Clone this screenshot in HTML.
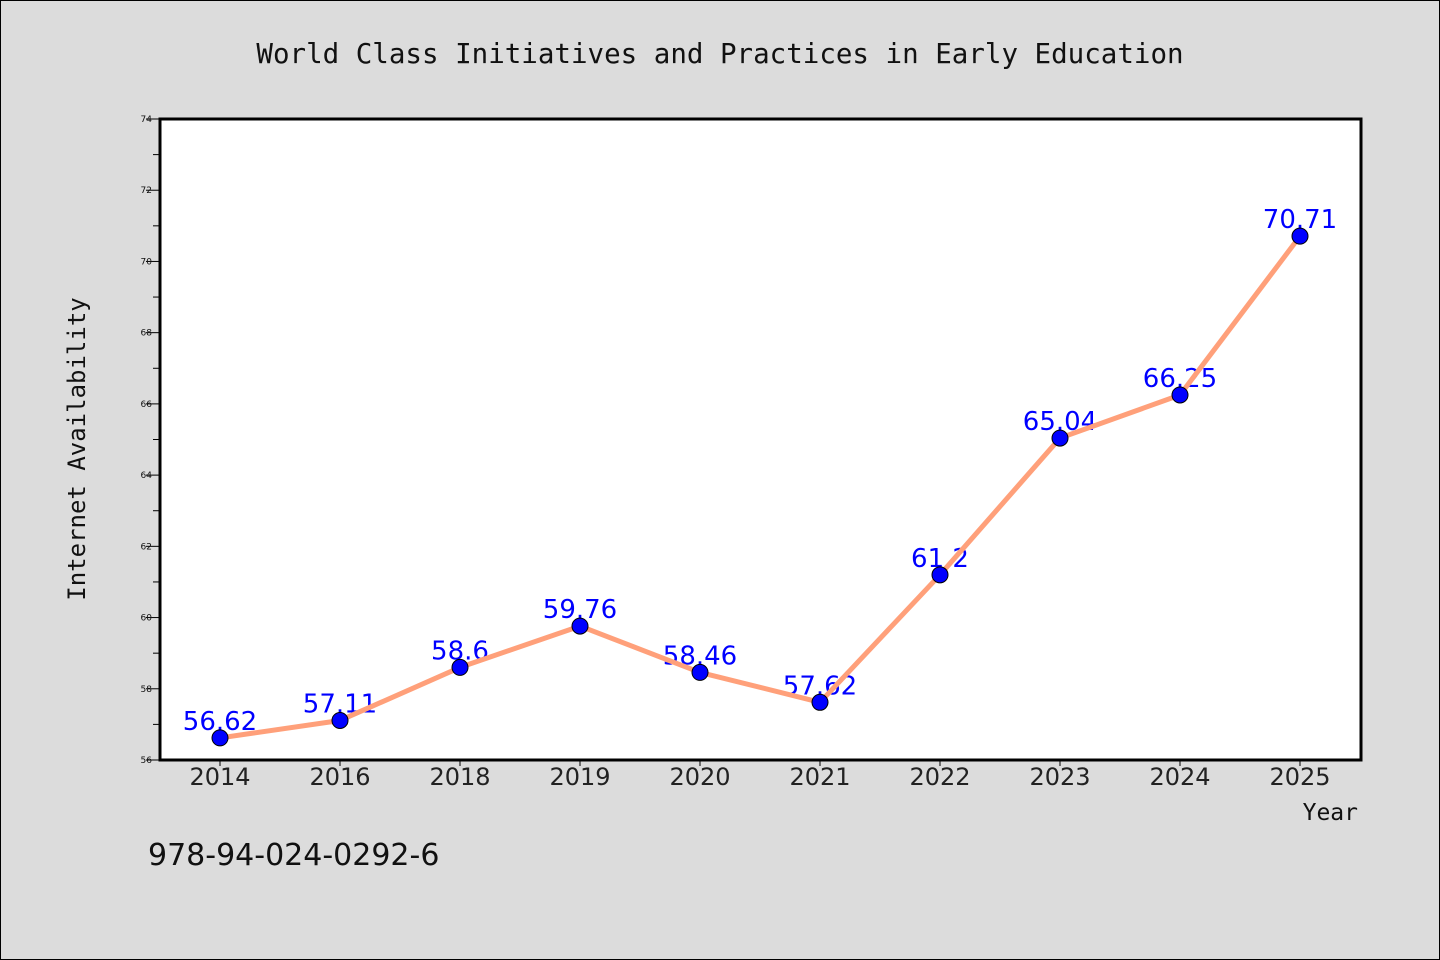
<!DOCTYPE html>
<html><head><meta charset="utf-8"><style>
body{margin:0;background:#dcdcdc}
svg{display:block}
</style></head><body>
<svg width="1440" height="960" xmlns="http://www.w3.org/2000/svg" id="c">
<rect x="0.5" y="0.5" width="1439" height="959" fill="#dcdcdc" stroke="#000"/>
<text x="720" y="63" text-anchor="middle" font-family="DejaVu Sans Mono, monospace" font-size="27.5" fill="#111">World Class Initiatives and Practices in Early Education</text>
<rect x="160" y="119" width="1201" height="641" fill="#fff" stroke="#000" stroke-width="3"/>
<text transform="translate(85,449) rotate(-90)" text-anchor="middle" font-family="DejaVu Sans Mono, monospace" font-size="24" fill="#111">Internet Availability</text>
<text x="1358" y="820" text-anchor="end" font-family="DejaVu Sans Mono, monospace" font-size="23" fill="#111">Year</text>
<text x="148" y="865" font-family="DejaVu Sans, sans-serif" font-size="30" fill="#111">978-94-024-0292-6</text>
<g id="axes"></g><g id="marks"></g>
</svg>
<script>
const categories=["2014","2016","2018","2019","2020","2021","2022","2023","2024","2025"];
const values=[56.62,57.11,58.6,59.76,58.46,57.62,61.2,65.04,66.25,70.71];
const valueLabels=["56.62","57.11","58.6","59.76","58.46","57.62","61.2","65.04","66.25","70.71"];
const yTicks=[56,58,60,62,64,66,68,70,72,74];
const NS="http://www.w3.org/2000/svg";
const x0=160,x1=1361,yTop=119,yBot=760,yMin=56,yMax=74;
const xs=i=>220+i*(1300-220)/(categories.length-1);
const ys=v=>yBot-(v-yMin)/(yMax-yMin)*(yBot-yTop);
function mk(t,a,p){const e=document.createElementNS(NS,t);for(const k in a)e.setAttribute(k,a[k]);p.appendChild(e);return e;}
const ax=document.getElementById('axes'),mg=document.getElementById('marks');
for(let v=yMin;v<=yMax;v++){
  const major=yTicks.includes(v);
  const l=mk('line',{x1:x0-(major?14:7),x2:x0,y1:ys(v),y2:ys(v),stroke:'#000','stroke-width':1},ax);
  
  
}
yTicks.forEach(v=>{
  const t=mk('text',{x:152,y:ys(v)+3,'text-anchor':'end','font-family':'DejaVu Sans, sans-serif','font-size':9,fill:'#111'},ax);
  t.textContent=v;
  
  
});
categories.forEach((c,i)=>{
  const l=mk('line',{x1:xs(i),x2:xs(i),y1:yBot,y2:yBot+6,stroke:'#000'},ax);
  
  
  const t=mk('text',{x:xs(i),y:785,'text-anchor':'middle','font-family':'DejaVu Sans, sans-serif','font-size':24,fill:'#222'},ax);
  t.textContent=c;
  
  
});
values.forEach((v,i)=>{
  const t=mk('text',{x:xs(i),y:ys(v)-8,'text-anchor':'middle','font-family':'DejaVu Sans, sans-serif','font-size':26,fill:'#0000ff'},mg);
  t.textContent=valueLabels[i];
  
  
});
const pl=mk('polyline',{points:values.map((v,i)=>xs(i)+','+ys(v)).join(' '),fill:'none',stroke:'#ffa07a','stroke-width':5,'stroke-linejoin':'round'},mg);


values.forEach((v,i)=>{
  const c=mk('circle',{cx:xs(i),cy:ys(v),r:8,fill:'#0000ff',stroke:'#000','stroke-width':1},mg);
  
  
});
</script>
</body></html>
